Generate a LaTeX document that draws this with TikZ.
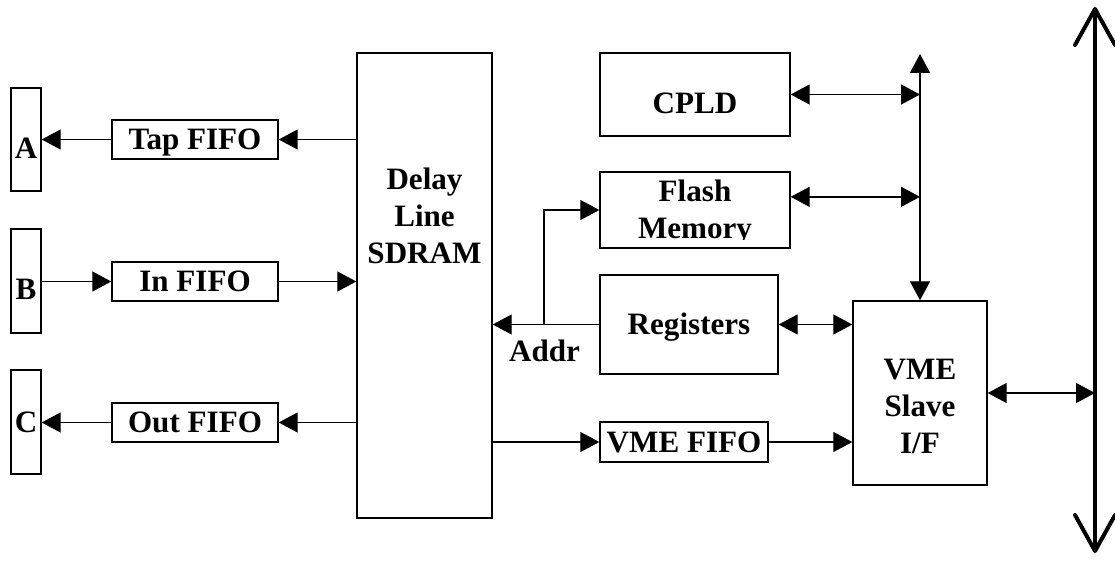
\documentclass[tikz,border=0pt]{standalone}
\usepackage{fontspec}
\setmainfont{Liberation Serif}
\usetikzlibrary{arrows.meta,calc}
\tikzset{
	txt/.style={font=\bfseries\fontsize{17.7}{21}\selectfont, text height=11.7pt, text depth=0pt, align=center, inner sep=0pt},
	blk/.style={draw, line width=0.8pt, txt},
	link/.style={line width=0.75pt, -{Triangle[length=0.38cm, width=0.4cm]}},
	dlink/.style={line width=0.75pt, {Triangle[length=0.38cm, width=0.4cm]}-{Triangle[length=0.38cm, width=0.4cm]}},
	bus/.style={line width=0.08cm, {Straight Barb[length=0.72cm, width=0.8cm, round]}-{Straight Barb[length=0.72cm, width=0.8cm, round]}}
}

\begin{document}
\begin{tikzpicture}[x=0.02cm, y=-0.02cm]
		%%%%% START %%%%%
		\useasboundingbox (0, 0) rectangle (1115, 561);
		
		% ports
		\node[blk, minimum width=0.6cm, minimum height=2.06cm] (a) at (26, 139.5) {};
		\node[txt] (atxt) at (26, 148.5) {A};
		\node[blk, minimum width=0.6cm, minimum height=2.08cm] (b) at (26, 281) {};
		\node[txt] (btxt) at (26, 289) {B};
		\node[blk, minimum width=0.6cm, minimum height=2.08cm] (c) at (26, 422) {C};
		
		% fifos
		\node[blk, minimum width=3.32cm, minimum height=0.78cm] (tapfifo) at (195, 139.5) {Tap FIFO};
		\node[blk, minimum width=3.32cm, minimum height=0.78cm] (infifo) at (195, 281.5) {In FIFO};
		\node[blk, minimum width=3.32cm, minimum height=0.78cm] (outfifo) at (195, 422.5) {Out FIFO};
		
		% delay line (multi-line text sits on its last line)
		\node[blk, minimum width=2.7cm, minimum height=9.3cm] (sdram) at (424.5, 285.5) {};
		\node[txt] (sdramtxt) at (424.5, 253) {Delay\\Line\\SDRAM};
		
		% right side blocks
		\node[blk, minimum width=3.8cm, minimum height=1.66cm] (cpld) at (695, 94.5) {};
		\node[txt] (cpldtxt) at (695, 103.5) {CPLD};
		\node[blk, minimum width=3.8cm, minimum height=1.52cm] (flash) at (695, 210) {};
		\begin{scope}
			\clip (600, 172) rectangle (790, 239);
			\node[txt] (flashtxt) at (695, 228) {Flash\\Memory};
		\end{scope}
		\node[blk, minimum width=3.56cm, minimum height=1.98cm] (registers) at (689, 324.5) {Registers};
		\node[blk, minimum width=3.36cm, minimum height=0.8cm] (vmefifo) at (684, 442) {VME FIFO};
		\node[blk, minimum width=2.68cm, minimum height=3.68cm] (vmeslave) at (920, 393) {};
		\node[txt] (vmeslavetxt) at (920, 443) {VME\\Slave\\I/F};
		
		\coordinate (addrjn) at (544, 324.5);
		\node[txt] (addr) at (544.5, 351.5) {Addr};
		\coordinate (vtop) at (920, 54);
		\coordinate (flashr) at ($(flash.north east)!.33!(flash.south east)$);
		\coordinate (bustop) at (1095, 7);
		\coordinate (busbot) at (1095, 553);
		
		% left links
		\draw[link] (sdram.west |- tapfifo) -- (tapfifo);
		\draw[link] (tapfifo) -- (a.east |- tapfifo);
		\draw[link] (b.east |- infifo) -- (infifo);
		\draw[link] (infifo) -- (sdram.west |- infifo);
		\draw[link] (sdram.west |- outfifo) -- (outfifo);
		\draw[link] (outfifo) -- (c.east |- outfifo);
		
		% right links
		\draw[link] (registers) -- (sdram.east |- registers);
		\draw[link] (addrjn) |- (flash.west);
		\draw[link] (sdram.east |- vmefifo) -- (vmefifo);
		\draw[link] (vmefifo) -- (vmeslave.west |- vmefifo);
		\draw[dlink] (registers) -- (vmeslave.west |- registers);
		\draw[dlink] (vtop) -- (vmeslave.north);
		\draw[dlink] (cpld) -- (vtop |- cpld);
		\draw[dlink] (flashr) -- (vtop |- flashr);
		\draw[dlink] (vmeslave) -- (bustop |- vmeslave);
		
		% vme bus
		\draw[bus] (bustop) -- (busbot);
		%%%%% END %%%%%
	\end{tikzpicture}
\end{document}
